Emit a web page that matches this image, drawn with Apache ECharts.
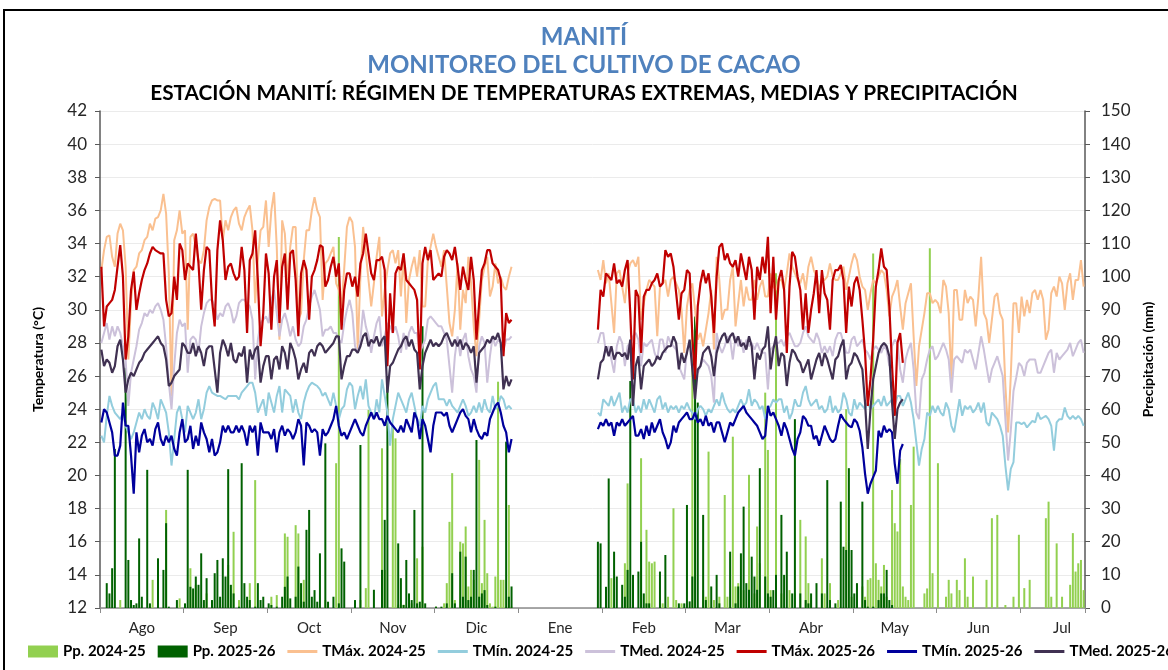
<!DOCTYPE html>
<html>
<head>
<meta charset="utf-8">
<title>Manití - Monitoreo del cultivo de cacao</title>
<script src="https://cdn.jsdelivr.net/npm/echarts@6/dist/echarts.min.js"></script>
<style>
  html, body { margin: 0; padding: 0; background: #fff; }
  #chart { width: 1168px; height: 670px; }
</style>
</head>
<body>
<div id="chart"></div>
<script>
// etiquetas del eje x (cada "mes" del eje de fechas ocupa 31 días)
const months = ['Ago', 'Sep', 'Oct', 'Nov', 'Dic', 'Ene', 'Feb', 'Mar', 'Abr', 'May', 'Jun', 'Jul'];
const DAYS = 365;
const MONTH_DAYS = 31;

// temperaturas diarias (°C); día 0 = 1 ago, día 184 = inicio feb
const tmax2425AgoDic = [
  32.4, 33.6, 34.4, 34.5, 33.2, 32.6, 34.6, 35.2, 34.8, 32.6,
  27.0, 30.5, 32.4, 32.6, 33.4, 33.6, 34.2, 34.4, 35.2, 34.8,
  35.5, 35.6, 36.0, 37.0, 35.8, 32.2, 24.8, 34.2, 34.8, 36.0,
  34.6, 34.8, 28.8, 34.4, 34.6, 33.8, 33.0, 32.8, 33.6, 35.4,
  36.2, 36.6, 36.7, 36.6, 36.6, 34.2, 35.4, 34.8, 35.6, 36.0,
  36.2, 35.2, 34.8, 35.6, 36.0, 36.3, 34.8, 30.4, 33.0, 34.8,
  35.0, 36.6, 33.8, 36.0, 37.1, 33.8, 28.2, 35.4, 34.6, 31.8,
  33.8, 35.0, 35.0, 29.4, 29.8, 33.0, 34.8, 34.8, 36.0, 36.8,
  36.0, 35.6, 30.6, 32.8, 33.0, 33.4, 33.8, 31.6, 31.2, 30.2,
  32.5, 35.0, 35.6, 35.3, 33.8, 27.6, 32.0, 35.0, 33.4, 31.8,
  30.2, 31.6, 33.2, 34.4, 29.6, 31.2, 32.4, 33.4, 33.6, 32.8,
  33.6, 30.8, 33.4, 29.2, 31.8, 32.6, 33.2, 32.0, 33.6, 30.2,
  30.2, 33.0, 33.8, 34.6, 33.8, 33.2, 32.6, 33.6, 31.4, 29.2,
  28.4, 30.0, 32.8, 28.8, 31.2, 30.4, 33.2, 31.6, 29.0, 27.2,
  29.4, 31.8, 32.6, 33.2, 30.8, 31.4, 32.8, 31.6, 32.0, 31.4,
  31.2, 32.0, 32.6
];
const tmax2425FebJul = [
  32.4, 31.8, 33.0, 31.6, 32.2, 30.4, 28.6, 32.2, 32.4, 31.4,
  30.4, 32.2, 32.8, 33.0, 32.6, 33.2, 29.4, 30.4, 31.2, 31.8,
  31.6, 31.4, 28.4, 31.4, 31.6, 31.8, 30.8, 31.8, 32.0, 31.6,
  31.2, 30.0, 27.4, 30.2, 31.2, 31.6, 30.0, 28.2, 28.6, 27.8,
  28.8, 29.8, 31.2, 27.6, 33.2, 31.8, 29.4, 30.0, 30.0, 31.8,
  32.6, 29.0, 30.4, 31.8, 30.2, 31.4, 30.6, 30.6, 31.8, 30.6,
  31.4, 31.8, 30.8, 30.8, 32.2, 31.4, 31.2, 31.8, 31.8, 31.2,
  32.2, 33.4, 32.6, 32.2, 31.8, 31.6, 32.2, 31.2, 32.6, 33.2,
  32.4, 32.0, 31.2, 31.8, 31.8, 32.0, 32.8, 32.0, 31.8, 31.8,
  32.2, 32.6, 31.2, 32.0, 32.8, 33.4, 33.0, 32.0, 31.4, 31.2,
  30.0, 31.0, 31.8, 31.6, 32.0, 32.4, 32.2, 31.2, 29.6, 30.8,
  31.2, 31.8, 30.2, 28.8, 30.4, 31.0, 31.6, 28.4, 25.4, 27.8,
  28.8, 29.8, 31.0, 31.0, 30.4, 30.6, 30.4, 29.8, 31.8, 31.4,
  29.8, 25.8, 31.2, 31.2, 29.4, 29.4, 31.2, 30.4, 30.8, 30.6,
  29.0, 30.8, 33.2, 29.8, 29.4, 28.0, 29.4, 30.8, 31.0, 29.8,
  29.4, 25.4, 22.6, 26.0, 30.4, 30.4, 28.6, 30.8, 29.6, 30.6,
  29.8, 31.0, 31.2, 30.6, 31.2, 30.6, 28.2, 28.8, 31.0, 31.4,
  30.8, 32.0, 31.6, 30.0, 31.6, 32.2, 30.6, 31.8, 31.8, 33.0,
  31.4
];
const tmin2425AgoDic = [
  22.4, 22.0, 23.6, 24.8, 24.2, 23.8, 23.6, 23.4, 23.8, 23.0,
  22.6, 22.2, 22.6, 23.2, 23.8, 23.4, 24.0, 23.6, 23.4, 24.4,
  24.0, 23.4, 24.6, 24.2, 23.8, 22.6, 20.6, 22.2, 23.8, 24.2,
  23.4, 22.6, 24.2, 23.8, 23.4, 23.8, 24.6, 23.4, 24.0, 25.0,
  25.4, 25.0, 24.9, 24.8, 24.8, 24.7, 24.6, 24.8, 24.8, 24.8,
  24.8, 24.6, 25.0, 25.2, 25.4, 25.6, 25.6, 25.0, 23.8, 24.2,
  24.6, 23.6, 25.0, 24.4, 23.8, 24.8, 25.4, 23.8, 25.2, 25.0,
  24.8, 23.8, 24.6, 23.8, 23.4, 24.4, 25.0, 25.4, 25.6, 25.5,
  25.4, 25.2, 24.8, 25.0, 24.6, 24.2, 25.0, 24.2, 23.4, 24.0,
  24.2, 25.2, 25.6, 25.4, 24.0, 24.8, 25.4, 24.6, 25.8, 24.2,
  23.8, 23.4, 24.6, 23.8, 25.8, 24.8, 23.8, 21.8, 23.4, 24.2,
  25.0, 24.6, 24.2, 23.8, 24.6, 25.0, 24.2, 23.4, 23.0, 24.2,
  23.8, 24.6, 25.0, 25.4, 25.6, 24.6, 24.6, 24.6, 24.2, 24.6,
  24.2, 24.0, 23.8, 24.2, 24.6, 24.2, 23.6, 23.8, 24.2, 23.8,
  24.4, 23.8, 24.6, 24.0, 23.8, 24.8, 24.0, 24.2, 24.8, 24.6,
  24.0, 24.2, 24.0
];
const tmin2425FebJul = [
  23.8, 23.6, 24.6, 24.4, 24.2, 24.8, 24.2, 24.6, 25.0, 23.8,
  24.2, 23.8, 24.6, 24.6, 23.8, 24.2, 23.8, 24.6, 24.0, 24.6,
  24.2, 23.8, 24.6, 24.8, 24.0, 24.4, 23.8, 24.2, 24.0, 24.2,
  23.8, 24.2, 24.0, 24.4, 24.0, 23.8, 23.4, 24.0, 24.2, 24.0,
  23.6, 24.0, 23.8, 24.2, 24.6, 24.2, 25.0, 24.4, 24.0, 23.8,
  24.0, 23.8, 24.2, 24.6, 24.2, 24.4, 25.2, 24.2, 24.6, 24.4,
  24.0, 24.2, 23.4, 24.0, 24.2, 24.6, 24.4, 24.6, 24.6, 23.8,
  24.2, 23.4, 23.8, 24.6, 24.2, 24.2, 25.0, 25.4, 24.6, 24.2,
  24.4, 24.6, 24.0, 24.2, 23.8, 24.0, 24.8, 23.8, 24.2, 23.8,
  24.0, 25.0, 24.6, 23.8, 23.6, 24.6, 24.0, 24.4, 24.2, 24.0,
  24.4, 24.0, 24.2, 24.4, 24.6, 24.2, 24.8, 24.2, 24.4, 24.6,
  24.2, 24.8, 24.8, 24.2, 24.6, 25.0, 24.4, 23.4, 22.0, 20.6,
  21.6, 22.2, 23.8, 23.6, 24.2, 23.8, 24.2, 23.8, 23.6, 24.4,
  24.0, 23.0, 22.6, 23.6, 24.6, 23.6, 24.2, 24.0, 24.2, 23.8,
  24.0, 24.4, 23.8, 24.4, 23.2, 23.0, 23.8, 23.6, 23.4, 23.0,
  22.4, 20.6, 19.1, 20.4, 20.8, 23.2, 23.2, 23.1, 23.2, 22.9,
  23.1, 23.3, 23.2, 23.8, 23.4, 23.5, 23.6, 23.4, 23.0, 21.5,
  23.2, 23.4, 23.4, 24.1, 23.6, 23.4, 23.6, 23.4, 23.6, 23.4,
  23.0
];
const tmed2425AgoDic = [
  28.0, 28.6, 29.2, 28.2, 29.0, 28.4, 29.0, 28.6, 27.8, 27.0,
  24.2, 26.2, 27.0, 27.8, 28.8, 29.2, 29.8, 29.6, 30.0, 29.8,
  30.2, 30.4, 30.0, 29.4, 27.8, 25.6, 24.0, 26.6, 28.6, 29.4,
  29.0, 29.2, 26.2, 28.2, 28.4, 28.2, 27.4, 29.0, 29.8, 30.4,
  30.6, 30.6, 30.2, 29.4, 29.8, 29.6, 30.2, 30.4, 30.0, 29.2,
  29.6, 30.4, 30.6, 30.6, 30.4, 30.2, 29.4, 25.8, 28.2, 29.2,
  29.4, 29.6, 29.2, 30.6, 31.2, 29.8, 28.4, 29.4, 29.8, 29.2,
  28.4, 29.0, 28.2, 27.8, 28.0, 29.0, 29.4, 30.2, 30.8, 31.2,
  30.6, 30.0, 28.4, 28.8, 28.8, 29.0, 28.6, 28.6, 28.2, 28.0,
  29.2, 30.0, 30.6, 29.8, 27.8, 27.4, 28.2, 30.0, 29.0, 28.4,
  27.4, 28.4, 29.2, 29.6, 27.8, 28.4, 29.2, 29.0, 28.6, 29.0,
  28.4, 27.4, 28.6, 27.6, 28.6, 29.0, 28.6, 28.6, 27.4, 27.8,
  28.2, 29.4, 29.6, 29.4, 29.2, 29.0, 29.0, 28.6, 28.2, 26.6,
  25.0, 27.2, 28.4, 27.2, 28.2, 28.6, 27.2, 26.4, 26.0, 25.0,
  27.8, 28.4, 28.0, 25.6, 27.2, 28.4, 27.8, 28.2, 28.0, 27.6,
  28.2, 28.2, 28.4
];
const tmed2425FebJul = [
  28.0, 28.6, 28.6, 27.4, 27.8, 27.0, 26.2, 27.8, 28.4, 28.0,
  26.6, 27.8, 28.0, 28.4, 28.6, 28.2, 26.6, 28.0, 27.8, 28.0,
  28.2, 27.4, 27.0, 28.2, 28.2, 27.4, 28.4, 28.0, 27.8, 27.6,
  26.6, 26.2, 25.8, 27.6, 28.0, 27.4, 26.6, 26.2, 26.6, 27.0,
  26.8, 26.6, 26.0, 24.4, 28.6, 27.8, 27.4, 27.8, 28.4, 28.2,
  27.0, 28.4, 27.8, 28.2, 27.4, 28.2, 27.8, 28.0, 27.6, 28.0,
  27.6, 27.4, 27.4, 25.2, 27.6, 27.8, 28.0, 28.0, 28.2, 27.8,
  28.4, 28.6, 28.2, 27.8, 27.8, 28.0, 28.6, 29.0, 28.4, 28.2,
  28.0, 28.6, 28.2, 27.4, 27.8, 27.4, 27.8, 27.2, 28.2, 28.6,
  28.6, 28.0, 27.4, 27.4, 28.2, 28.4, 27.8, 28.0, 28.2, 27.6,
  27.4, 27.0, 27.6, 27.8, 27.6, 27.4, 27.8, 27.6, 26.6, 27.8,
  28.2, 28.0, 26.4, 25.6, 27.0, 27.6, 28.0, 26.4, 23.8, 23.4,
  25.8, 26.2, 27.0, 27.6, 27.8, 27.0, 27.2, 27.6, 28.0, 27.6,
  27.0, 25.0, 27.0, 27.2, 27.0, 26.8, 27.6, 27.4, 27.6, 27.0,
  26.4, 27.4, 28.4, 27.6, 26.6, 25.6, 26.4, 26.8, 27.2, 26.6,
  26.0, 23.4, 20.9, 22.7, 25.1, 25.9, 26.8, 26.6, 26.0, 26.8,
  27.0, 27.0, 27.0, 26.2, 26.2, 26.6, 27.0, 27.4, 27.6, 26.2,
  27.4, 27.0, 27.2, 27.4, 27.6, 28.0, 27.2, 27.6, 28.0, 28.2,
  27.4
];
const tmax2526AgoDic = [
  32.6, 29.0, 30.2, 30.4, 30.6, 31.2, 32.6, 33.9, 32.0, 27.0,
  28.4, 31.2, 32.3, 30.0, 31.0, 31.8, 32.4, 32.8, 33.4, 33.8,
  33.6, 33.5, 33.4, 33.4, 30.6, 29.6, 29.8, 32.0, 30.6, 34.0,
  33.6, 31.8, 32.8, 32.6, 32.4, 34.6, 32.8, 30.0, 32.4, 33.8,
  33.6, 30.6, 29.0, 33.6, 35.4, 34.2, 31.8, 32.6, 32.8, 32.2,
  31.8, 32.0, 33.8, 32.4, 28.6, 33.0, 33.4, 34.8, 31.8, 27.8,
  29.8, 33.4, 32.2, 28.8, 32.0, 33.0, 29.2, 32.6, 33.4, 30.0,
  33.4, 33.6, 31.8, 28.4, 32.2, 33.0, 32.4, 29.4, 32.0, 32.4,
  33.0, 33.9, 33.8, 31.4, 31.8, 32.6, 33.2, 32.0, 32.8, 28.8,
  31.2, 32.2, 32.2, 31.4, 32.0, 30.8, 32.8, 33.4, 34.6, 33.4,
  32.2, 31.8, 33.0, 33.0, 33.2, 32.4, 26.6, 31.0, 28.6, 32.2,
  32.6, 32.4, 33.4, 31.8, 31.6, 31.4, 31.2, 30.6, 26.4, 32.8,
  33.8, 33.0, 33.6, 31.8, 32.0, 32.2, 32.0, 33.2, 33.6, 33.4,
  33.0, 33.8, 32.6, 31.2, 32.6, 31.8, 31.2, 33.2, 31.8, 28.2,
  30.4, 32.4, 32.8, 33.6, 33.6, 32.8, 32.6, 32.4, 31.8, 27.2,
  29.8, 29.2, 29.4
];
const tmax2526FebMay = [
  28.8, 31.2, 30.8, 32.2, 32.0, 31.8, 32.8, 31.6, 31.8, 31.4,
  32.4, 33.0, 29.8, 25.8, 31.2, 30.8, 27.4, 30.8, 31.2, 31.2,
  31.6, 31.8, 32.2, 31.4, 31.6, 33.6, 33.2, 33.4, 32.6, 31.0,
  29.4, 31.0, 31.2, 32.4, 32.2, 28.4, 25.8, 30.2, 31.6, 32.4,
  31.6, 32.2, 30.8, 28.6, 32.0, 33.8, 34.0, 33.0, 33.4, 32.8,
  32.6, 33.0, 32.0, 33.4, 32.6, 31.8, 33.2, 32.4, 29.4, 32.6,
  31.8, 33.2, 32.2, 34.4, 29.8, 33.2, 29.4, 31.8, 32.4, 31.2,
  27.4, 31.4, 33.5, 33.2, 32.0, 31.2, 28.8, 31.0, 28.6, 30.0,
  31.0, 32.4, 29.8, 32.4, 31.0, 30.6, 28.8, 31.8, 32.4, 32.4,
  32.7, 31.8, 28.6, 31.4, 30.2, 31.6, 32.0, 31.2, 29.4, 27.4,
  24.2, 25.8, 28.2, 31.4, 32.4, 33.7, 32.6, 32.4, 30.2, 26.6,
  23.6, 28.0, 28.6, 26.8
];
const tmin2526AgoDic = [
  23.2, 24.0, 23.8, 23.2, 22.6, 21.2, 21.2, 21.8, 24.4, 23.0,
  23.0, 21.2, 18.9, 22.6, 21.4, 22.4, 22.8, 22.0, 22.2, 21.8,
  22.8, 23.2, 22.2, 21.8, 22.4, 22.0, 22.4, 21.6, 21.2, 22.6,
  23.4, 22.0, 22.2, 23.0, 21.6, 22.4, 21.8, 23.2, 22.6, 22.2,
  21.4, 22.2, 21.2, 21.4, 22.0, 23.0, 22.6, 23.0, 22.6, 22.6,
  23.0, 22.6, 23.0, 22.6, 21.8, 23.0, 22.6, 23.0, 21.2, 23.2,
  22.6, 22.6, 22.6, 22.2, 22.8, 21.4, 22.6, 23.0, 22.4, 22.8,
  22.6, 22.2, 22.6, 23.4, 23.0, 20.6, 23.2, 23.0, 22.6, 22.8,
  22.6, 21.2, 22.8, 22.4, 22.6, 23.0, 23.4, 24.2, 23.0, 22.4,
  22.6, 22.2, 22.6, 23.0, 23.4, 23.0, 22.6, 22.4, 23.0, 23.4,
  23.8, 23.4, 23.8, 23.4, 23.4, 23.0, 23.6, 23.2, 23.0, 22.8,
  22.6, 23.0, 22.6, 23.4, 23.0, 22.6, 23.8, 23.4, 22.2, 23.4,
  23.0, 22.2, 21.4, 23.0, 23.8, 23.8, 23.8, 23.6, 23.8, 23.0,
  22.6, 23.0, 23.4, 23.8, 24.0, 23.6, 23.4, 22.6, 23.4, 22.8,
  22.4, 22.2, 22.6, 22.4, 23.4, 23.8, 24.2, 24.4, 23.8, 23.0,
  22.6, 21.4, 22.2
];
const tmin2526FebMay = [
  22.8, 23.2, 23.0, 23.4, 23.0, 23.2, 22.4, 23.2, 23.0, 23.4,
  23.0, 23.2, 23.4, 23.6, 22.4, 22.4, 22.8, 22.2, 23.0, 22.4,
  23.2, 22.6, 23.0, 23.4, 22.6, 22.2, 21.6, 22.0, 23.0, 22.6,
  23.2, 23.4, 23.6, 23.8, 23.4, 23.4, 23.8, 23.2, 23.4, 23.0,
  23.6, 23.0, 23.2, 22.6, 23.2, 23.2, 22.6, 22.0, 22.6, 23.2,
  23.0, 23.4, 23.8, 24.0, 24.2, 23.8, 23.6, 23.4, 23.2, 23.0,
  22.6, 22.2, 22.4, 24.2, 23.6, 23.8, 23.4, 23.0, 22.4, 23.2,
  22.8, 22.2, 21.6, 21.2, 22.2, 22.6, 23.6, 23.4, 23.0, 23.0,
  22.2, 22.4, 21.8, 22.4, 23.0, 22.6, 22.2, 22.0, 22.2, 23.0,
  23.7, 23.4, 23.2, 23.0, 22.9, 23.4, 23.2, 22.7, 21.7, 20.1,
  18.9, 19.5, 19.9, 20.3, 22.7, 22.3, 23.0, 22.6, 22.8, 22.6,
  20.7, 19.5, 21.5, 21.9
];
const tmed2526AgoDic = [
  27.6, 26.6, 27.0, 26.8, 26.2, 26.6, 27.8, 28.2, 27.0, 25.0,
  25.8, 26.2, 26.0, 26.4, 26.8, 27.0, 27.4, 27.6, 27.8, 28.0,
  28.2, 28.4, 28.0, 27.8, 27.0, 25.4, 25.6, 26.0, 26.2, 26.4,
  28.0, 27.8, 27.4, 27.4, 28.0, 27.2, 27.8, 27.4, 26.6, 27.6,
  27.8, 27.8, 26.4, 25.0, 27.4, 28.2, 27.8, 27.2, 28.0, 27.0,
  26.8, 27.4, 27.2, 27.8, 25.6, 27.6, 27.0, 27.6, 27.8, 25.6,
  26.6, 27.2, 27.2, 25.8, 27.0, 27.2, 26.4, 27.8, 27.4, 26.4,
  28.0, 27.6, 27.0, 25.8, 26.4, 26.8, 26.2, 27.4, 27.6, 27.2,
  27.8, 28.0, 27.8, 27.4, 27.6, 27.8, 28.0, 28.4, 28.4, 25.8,
  26.6, 27.2, 27.2, 27.6, 27.6, 27.4, 27.8, 28.4, 28.6, 27.8,
  28.2, 28.0, 28.4, 27.8, 28.2, 28.4, 25.0, 26.6, 26.8, 27.2,
  27.6, 27.8, 28.2, 28.4, 27.8, 28.2, 27.6, 27.4, 25.2, 26.6,
  27.4, 27.8, 28.2, 27.8, 28.0, 27.8, 28.0, 28.4, 28.6, 28.2,
  27.8, 28.2, 27.8, 28.2, 27.6, 28.0, 27.8, 27.4, 27.8, 25.6,
  27.4, 27.6, 27.8, 28.2, 28.0, 28.4, 28.2, 28.6, 28.0, 25.2,
  26.0, 25.4, 25.8
];
const tmed2526FebMay = [
  25.8, 26.8, 27.0, 27.8, 27.2, 27.8, 27.0, 27.4, 27.4, 27.2,
  27.4, 27.0, 28.2, 24.2, 26.6, 27.2, 25.2, 26.6, 26.8, 27.0,
  26.6, 26.8, 27.2, 27.0, 27.4, 27.6, 27.8, 27.8, 28.4, 28.0,
  26.4, 27.4, 26.8, 27.4, 28.2, 26.4, 24.6, 26.4, 26.6, 27.4,
  27.6, 27.8, 27.2, 26.0, 27.4, 28.0, 28.4, 28.6, 28.0, 28.4,
  28.6, 28.0, 28.4, 27.8, 28.0, 27.6, 28.4, 27.8, 25.8, 27.4,
  27.0, 27.6, 27.8, 29.0, 26.4, 27.6, 28.4, 26.6, 27.4, 27.2,
  25.4, 26.8, 27.6, 27.4, 27.0, 26.8, 26.2, 26.6, 27.0, 25.8,
  26.4, 27.0, 27.4, 26.6, 27.4, 27.0, 26.4, 25.8, 27.0, 27.2,
  27.8, 28.2, 25.8, 26.6, 26.8, 27.4, 27.2, 26.8, 26.4, 24.4,
  21.6, 24.0, 25.8, 26.6, 27.4, 27.8, 28.0, 27.8, 27.2, 24.4,
  22.2, 24.0, 24.4, 24.6
];

// precipitación diaria (mm): [día, mm]; los demás días sin lluvia
const pp2425 = [
  [7, 2.4], [19, 8.5], [24, 29.6], [29, 2.9], [33, 12], [35, 7], [39, 4.4], [47, 13], [49, 23], [51, 2.4],
  [55, 7.5], [57, 38.6], [63, 3.4], [65, 3.9], [68, 22.5], [69, 21.5], [72, 25], [73, 22.5], [75, 8.5], [83, 2.4],
  [87, 43.7], [88, 112], [96, 2.4], [98, 6], [99, 59.8], [104, 48.2], [105, 11.5], [108, 54.8], [109, 51.2], [110, 1],
  [112, 1], [115, 1.4], [117, 15], [118, 0.4], [119, 18.5], [124, 0.4], [127, 1.4], [128, 7.5], [129, 26], [130, 40.7],
  [131, 2.4], [133, 20], [134, 19.5], [135, 24.6], [136, 6.5], [137, 11.5], [138, 8.5], [140, 44.7], [141, 7.5], [142, 26.6],
  [143, 10.5], [144, 1.4], [145, 0.4], [146, 9.5], [147, 68.3], [148, 8.5], [149, 8.5], [150, 0.4], [151, 31.1], [152, 0.4],
  [187, 1.4], [189, 9], [194, 13.5], [195, 37.6], [197, 1.4], [200, 45.2], [202, 23.6], [203, 14], [204, 13.5], [205, 14],
  [208, 1.4], [210, 3.4], [212, 30.1], [213, 2.4], [215, 1.4], [219, 84], [223, 5.4], [224, 3.4], [225, 47.2], [227, 2.4],
  [229, 3.4], [231, 34.1], [232, 3.4], [234, 51.7], [235, 6.5], [236, 7.5], [238, 5.4], [240, 40.2], [242, 4.4], [243, 24.6],
  [244, 13.5], [246, 65], [247, 47.7], [248, 5.4], [250, 101], [252, 4.4], [255, 5.4], [257, 4.4], [259, 26.6], [261, 21.6],
  [262, 7.5], [263, 2.4], [267, 15], [268, 4.4], [270, 7.5], [273, 2.4], [276, 60], [278, 3.4], [280, 2.4], [282, 6.5],
  [283, 3.4], [284, 8.5], [285, 9], [286, 107], [287, 13.5], [288, 8.5], [289, 6.5], [290, 13], [291, 3.4], [293, 35.6],
  [294, 25.6], [295, 23.1], [296, 45], [297, 6.5], [298, 3.4], [299, 2.4], [300, 31.1], [301, 48.7], [305, 4.4], [306, 5.9],
  [307, 108.6], [308, 10.5], [310, 43.7], [313, 3.4], [314, 8.5], [315, 4.4], [317, 8.5], [318, 5.4], [320, 15], [321, 3.4],
  [323, 9.5], [328, 8.5], [330, 27.1], [332, 28.1], [335, 0.9], [338, 3.4], [340, 22.1], [342, 6], [344, 8.5], [350, 27.1],
  [351, 32.1], [352, 3.4], [354, 19.5], [356, 3.4], [359, 7], [360, 22.6], [361, 11], [362, 13.5], [363, 14.5], [364, 5.4]
];
const pp2526 = [
  [2, 7.5], [3, 4.4], [4, 12], [5, 48], [9, 72.5], [10, 14.5], [11, 2.4], [12, 0.9], [13, 1.4], [14, 21],
  [15, 3.4], [17, 41.7], [18, 1.4], [21, 15], [23, 11.5], [24, 25.6], [25, 0.4], [28, 2.4], [31, 1.4], [32, 41.7],
  [33, 6.4], [34, 5.9], [35, 9.5], [36, 7], [37, 16.5], [38, 2.4], [39, 9], [41, 2.4], [42, 10.5], [43, 14.5],
  [44, 3.4], [45, 15], [46, 9.5], [47, 41.9], [48, 7], [49, 4.4], [51, 0.4], [52, 43.7], [53, 7.5], [54, 3.4],
  [55, 2.4], [57, 0.4], [58, 7.5], [59, 2.4], [60, 3.4], [62, 1.4], [63, 0.9], [65, 0.4], [67, 3.4], [68, 6.4],
  [69, 9.5], [70, 2.9], [72, 3.4], [73, 12.5], [74, 7.5], [75, 1.9], [76, 23.6], [77, 29.6], [78, 3.4], [79, 5.4],
  [80, 1.9], [81, 16.5], [83, 49.7], [84, 1.9], [86, 3.4], [88, 1.4], [89, 18], [90, 14], [94, 2.4], [96, 49.2],
  [101, 5.5], [104, 11.5], [105, 26.6], [106, 70], [110, 19.5], [111, 9], [112, 0.9], [113, 14.5], [114, 4.4], [115, 2.4],
  [116, 29.6], [117, 1.4], [118, 1.9], [119, 85], [120, 1.4], [124, 0.4], [126, 0.4], [128, 1.4], [130, 10.5], [131, 1.4],
  [133, 17], [134, 3.4], [135, 15.5], [136, 2.4], [137, 3.4], [138, 11.5], [139, 50.7], [140, 3.4], [141, 4.4], [142, 5.4],
  [143, 0.9], [146, 0.4], [150, 50.2], [151, 3.4], [152, 6.5],
  [184, 20], [185, 19.5], [187, 6.4], [188, 39.1], [190, 17], [191, 9.5], [193, 7], [194, 3.4], [195, 11.5], [196, 68.5],
  [197, 10], [199, 11], [200, 20], [201, 4.4], [202, 1.4], [203, 1.4], [207, 11], [209, 16], [214, 1.4], [216, 1.4],
  [217, 31.1], [218, 2], [219, 9.5], [220, 88], [221, 62], [223, 28.1], [224, 2.4], [226, 6.5], [228, 10], [229, 1.4],
  [233, 17], [235, 1.4], [236, 6.5], [237, 16.5], [238, 30.6], [239, 7.5], [240, 5.5], [241, 15.5], [242, 9.5], [243, 5.5],
  [244, 42.2], [246, 9.5], [247, 4.4], [248, 3.4], [249, 5.4], [250, 10], [252, 28.1], [253, 10], [254, 17], [256, 4.4],
  [257, 57], [259, 4.4], [261, 2.4], [262, 1.4], [263, 4.4], [265, 7.5], [267, 4.4], [269, 38.6], [270, 2.4], [272, 1.4],
  [274, 32.1], [275, 18.5], [276, 17.5], [277, 42.2], [278, 17.5], [279, 4.4], [280, 7.5], [282, 32.1], [283, 2.4], [284, 0.4],
  [286, 0.4], [288, 2.4], [289, 4.4], [290, 4.4], [291, 11.5], [292, 2.4], [293, 0.9]
];

const FEB = 184;

function daily(parts) {
  const out = new Array(DAYS).fill(null);
  parts.forEach(([start, vals]) => vals.forEach((v, i) => { out[start + i] = v; }));
  return out;
}
function rain(pairs) {
  const out = new Array(DAYS).fill(null);
  pairs.forEach(([d, mm]) => { out[d] = mm; });
  return out;
}

const dayIdx = Array.from({ length: DAYS }, (_, i) => String(i));
const font = 'Lato, "Open Sans", sans-serif';
const lineIcon = 'path://M0,0L30,0L30,3L0,3Z';

const chart = echarts.init(document.getElementById('chart'));

function line(name, data, color, width) {
  return {
    name, type: 'line', data, yAxisIndex: 0,
    symbol: 'none', showSymbol: false, connectNulls: false,
    lineStyle: { color, width },
    itemStyle: { color },
    emphasis: { disabled: true }
  };
}
function bars(name, data, color) {
  return {
    name, type: 'bar', data, yAxisIndex: 1,
    barWidth: 2, barGap: '-100%',
    itemStyle: { color },
    emphasis: { disabled: true }
  };
}

const option = {
  animation: false,
  backgroundColor: '#fff',
  textStyle: { fontFamily: font },
  title: [
    { text: 'MANITÍ', left: 'center', top: 20,
      textStyle: { color: '#4F81BD', fontSize: 24, fontWeight: 'bold', fontFamily: font } },
    { text: 'MONITOREO DEL CULTIVO DE CACAO', left: 'center', top: 48,
      textStyle: { color: '#4F81BD', fontSize: 24, fontWeight: 'bold', fontFamily: font } },
    { text: 'ESTACIÓN MANITÍ: RÉGIMEN DE TEMPERATURAS EXTREMAS, MEDIAS Y PRECIPITACIÓN', left: 'center', top: 78,
      textStyle: { color: '#000', fontSize: 20.8, fontWeight: 'bold', fontFamily: font } }
  ],
  graphic: [
    { type: 'rect', silent: true, z: -10,
      shape: { x: 4, y: 10, width: 1200, height: 720 },
      style: { fill: 'none', stroke: '#000', lineWidth: 2 } }
  ],
  legend: {
    left: 23, top: 639, width: 1400,
    itemWidth: 30, itemHeight: 12, itemGap: 12,
    textStyle: { color: '#000', fontSize: 15, fontWeight: 'bold', fontFamily: font },
    data: [
      { name: 'Pp. 2024-25', icon: 'rect' },
      { name: 'Pp. 2025-26', icon: 'rect' },
      { name: 'TMáx. 2024-25', icon: lineIcon },
      { name: 'TMín. 2024-25', icon: lineIcon },
      { name: 'TMed. 2024-25', icon: lineIcon },
      { name: 'TMáx. 2025-26', icon: lineIcon },
      { name: 'TMín. 2025-26', icon: lineIcon },
      { name: 'TMed. 2025-26', icon: lineIcon }
    ]
  },
  grid: { left: 100, right: 83, top: 111, bottom: 62 },
  xAxis: {
    type: 'category', data: dayIdx, boundaryGap: true,
    axisLine: { lineStyle: { color: '#8c8c8c', width: 1.5 } },
    axisTick: { show: true, interval: (i) => i % MONTH_DAYS === 0, length: 5,
                lineStyle: { color: '#8c8c8c' } },
    axisLabel: { interval: (i) => i % MONTH_DAYS === 15, margin: 13,
                 formatter: (v) => months[Math.floor(Number(v) / MONTH_DAYS)],
                 color: '#262626', fontSize: 15, fontFamily: font },
    splitLine: { show: false }
  },
  yAxis: [
    {
      type: 'value', min: 12, max: 42, interval: 2, position: 'left',
      name: 'Temperatura (°C)', nameLocation: 'middle', nameGap: 55, nameRotate: 90,
      nameTextStyle: { color: '#000', fontSize: 14, fontWeight: 'bold', fontFamily: font },
      axisLine: { show: true, lineStyle: { color: '#595959', width: 1.5 } },
      axisTick: { show: true, length: 5, lineStyle: { color: '#595959' } },
      axisLabel: { color: '#262626', fontSize: 17, fontFamily: font, margin: 13 },
      splitLine: { show: true, lineStyle: { color: '#ebebeb', width: 1 } }
    },
    {
      type: 'value', min: 0, max: 150, interval: 10, position: 'right',
      name: 'Precipitación (mm)', nameLocation: 'middle', nameGap: 55, nameRotate: 90,
      nameTextStyle: { color: '#000', fontSize: 14, fontWeight: 'bold', fontFamily: font },
      axisLine: { show: true, lineStyle: { color: '#595959', width: 1.5 } },
      axisTick: { show: true, length: 5, lineStyle: { color: '#595959' } },
      axisLabel: { color: '#262626', fontSize: 17, fontFamily: font, margin: 16 },
      splitLine: { show: false }
    }
  ],
  series: [
    bars('Pp. 2024-25', rain(pp2425), '#92D050'),
    bars('Pp. 2025-26', rain(pp2526), '#006100'),
    line('TMáx. 2024-25', daily([[0, tmax2425AgoDic], [FEB, tmax2425FebJul]]), '#FAC090', 2),
    line('TMín. 2024-25', daily([[0, tmin2425AgoDic], [FEB, tmin2425FebJul]]), '#93CDDD', 2),
    line('TMed. 2024-25', daily([[0, tmed2425AgoDic], [FEB, tmed2425FebJul]]), '#CCC1DA', 2),
    line('TMáx. 2025-26', daily([[0, tmax2526AgoDic], [FEB, tmax2526FebMay]]), '#C00000', 2.2),
    line('TMín. 2025-26', daily([[0, tmin2526AgoDic], [FEB, tmin2526FebMay]]), '#00009C', 2.2),
    line('TMed. 2025-26', daily([[0, tmed2526AgoDic], [FEB, tmed2526FebMay]]), '#403152', 2.2)
  ]
};

chart.setOption(option);
</script>
</body>
</html>
